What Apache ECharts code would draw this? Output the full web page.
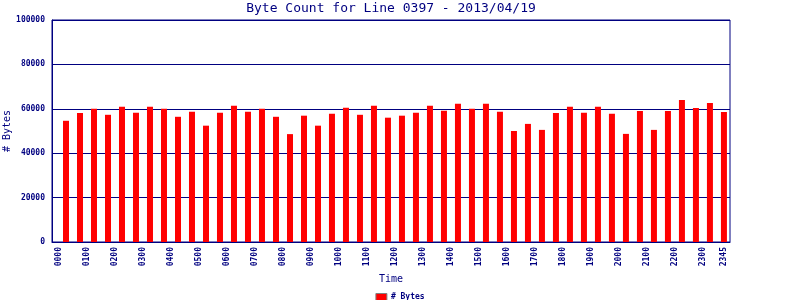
<!DOCTYPE html>
<html>
<head>
<meta charset="utf-8">
<script src="https://cdn.jsdelivr.net/npm/echarts@6/dist/echarts.min.js"></script>
<style>html,body{margin:0;padding:0;background:#fff}#c{width:800px;height:300px}</style>
</head>
<body>
<div id="c"></div>
<script>
var times = ["0015","0045","0115","0145","0215","0245","0315","0345","0415","0445","0515","0545",
             "0615","0645","0715","0745","0815","0845","0915","0945","1015","1045","1115","1145",
             "1215","1245","1315","1345","1415","1445","1515","1545","1615","1645","1715","1745",
             "1815","1845","1915","1945","2015","2045","2115","2145","2215","2245","2315","2345"];
var bytes = [54600,58100,60000,57300,60900,58200,60900,60000,56400,58700,52400,58200,
             61400,58700,60000,56400,48600,56900,52400,57800,60500,57300,61400,56000,
             56900,58200,61400,59100,62300,60000,62300,58700,50000,53200,50500,58100,
             60900,58200,60900,57800,48700,59000,50500,59000,64000,60400,62600,58600];
var tickLabels = ["0000","0100","0200","0300","0400","0500","0600","0700","0800","0900","1000","1100",
                  "1200","1300","1400","1500","1600","1700","1800","1900","2000","2100","2200","2300","2345"];

function toMin(s){ return parseInt(s.slice(0,2),10)*60 + parseInt(s.slice(2),10); }
function toLabel(m){ var h=Math.floor(m/60), mm=m%60; return (h<10?'0':'')+h+(mm<10?'0':'')+mm; }

var NAVY = '#000080';
var chart = echarts.init(document.getElementById('c'), null, {renderer:'canvas'});
chart.setOption({
  animation: false,
  backgroundColor: '#ffffff',
  title: {
    text: 'Byte Count for Line 0397 - 2013/04/19',
    left: 391, top: 2, padding: 0, textAlign: 'center',
    textStyle: {color: NAVY, fontFamily: 'DejaVu Sans Mono', fontSize: 13, fontWeight: 'normal'}
  },
  legend: {
    left: 'center', top: 288,
    icon: 'rect', itemWidth: 11, itemHeight: 7, itemGap: 5,
    itemStyle: {borderColor: '#808080', borderWidth: 1},
    textStyle: {color: NAVY, fontFamily: 'DejaVu Sans Mono', fontSize: 8, fontWeight: 'bold', padding: [0,0,0,-1]},
    data: ['# Bytes']
  },
  grid: {left: 52, right: 70, top: 20, bottom: 58, outerBoundsMode: 'none', containLabel: false,
         show: true, borderColor: NAVY, borderWidth: 1, backgroundColor: 'transparent'},
  xAxis: {
    type: 'value', min: -15, max: 1438,
    name: 'Time', nameLocation: 'middle', nameGap: 32, nameMoveOverlap: false,
    nameTextStyle: {color: NAVY, fontFamily: 'DejaVu Sans Mono', fontSize: 10},
    axisLine: {show: true, onZero: false, lineStyle: {color: NAVY, width: 1}},
    axisTick: {show: false, customValues: tickLabels.map(toMin)},
    splitLine: {show: false},
    axisLabel: {
      customValues: tickLabels.map(toMin),
      rotate: 90, margin: 5,
      color: NAVY, fontFamily: 'DejaVu Sans Mono', fontSize: 8, fontWeight: 'bold',
      formatter: function(v){ return toLabel(Math.round(v)); }
    }
  },
  yAxis: {
    type: 'value', min: 0, max: 100000, interval: 20000,
    name: '# Bytes', nameLocation: 'middle', nameGap: 40, nameRotate: 90, nameMoveOverlap: false,
    nameTextStyle: {color: NAVY, fontFamily: 'DejaVu Sans Mono', fontSize: 10},
    axisLine: {show: true, onZero: false, lineStyle: {color: NAVY, width: 1}},
    axisTick: {show: false},
    splitLine: {show: true, lineStyle: {color: NAVY, width: 1}},
    axisLabel: {
      margin: 7, color: NAVY, fontFamily: 'DejaVu Sans Mono', fontSize: 8, fontWeight: 'bold',
      formatter: function(v){ return String(v); }
    }
  },
  series: [{
    name: '# Bytes', type: 'bar', barWidth: 6,
    itemStyle: {color: '#ff0000'},
    data: times.map(function(t,i){ return [toMin(t), bytes[i]]; })
  }]
});
</script>
</body>
</html>
